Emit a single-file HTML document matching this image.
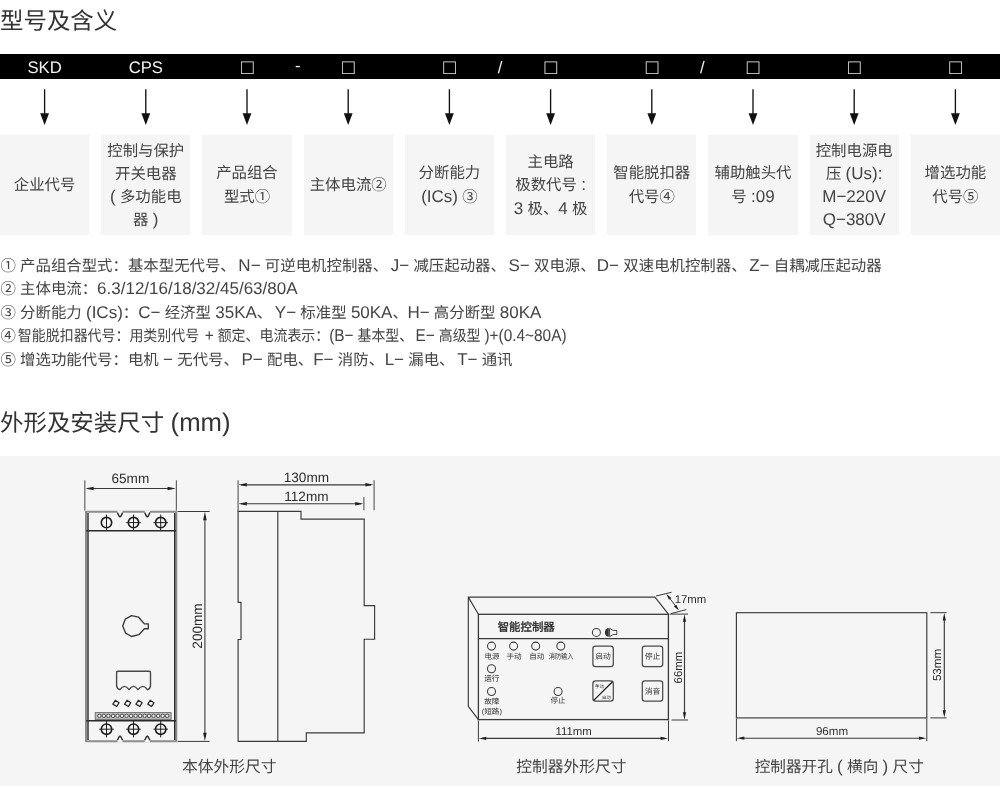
<!DOCTYPE html>
<html lang="zh-CN">
<head>
<meta charset="utf-8">
<title>型号及含义</title>
<style>
html,body{margin:0;padding:0;background:#fff;}
body{will-change:transform;text-rendering:geometricPrecision;width:1000px;height:786px;position:relative;overflow:hidden;font-family:"Liberation Sans",sans-serif;font-weight:300;color:#444;}
h1,h2{position:absolute;left:0;margin:0;font-weight:300;font-size:23.45px;line-height:30px;color:#333;white-space:nowrap;letter-spacing:0;}
h1{top:6.2px;}
h2{top:407.6px;}
.bar{position:absolute;left:0;top:54.4px;width:1000px;height:24.9px;background:#000;}
.bar span{position:absolute;width:60px;margin-left:-30px;text-align:center;color:#f2f2f2;font-size:16.7px;line-height:26px;top:0.3px;}
.bar .q{font-size:21px;top:0.2px;color:#e4e4e4;}
.box{position:absolute;top:135px;width:89.2px;height:99.6px;background:#f5f5f5;display:flex;align-items:center;justify-content:center;text-align:center;font-size:15.4px;line-height:23.3px;color:#444;}
.box>div{position:relative;top:1.3px;}
.box.l2{line-height:24px;}
.box.l3{line-height:23.7px;}
.notes{position:absolute;left:0.4px;top:254.5px;margin:0;padding:0;font-size:15.41px;line-height:23.55px;color:#444;white-space:nowrap;}
.notes p{margin:0;}
.panel{position:absolute;left:0;top:456px;width:1000px;height:330px;background:#f5f5f5;}
.cap{position:absolute;top:756px;width:240px;margin-left:-120px;text-align:center;font-size:15.75px;line-height:23px;color:#444;white-space:nowrap;}
.l{font-size:17px;line-height:0;}
.g{margin-left:2.6px;}
.sq{display:inline-block;transform:scaleX(0.905);transform-origin:0 50%;margin-left:-1.4px;white-space:pre;}
h1 .l,h2 .l{font-size:25.7px;line-height:0;}
svg{position:absolute;left:0;top:0;}
svg text{font-family:"Liberation Sans",sans-serif;}
</style>
</head>
<body>
<h1>型号及含义</h1>

<div class="bar">
<span style="left:44.6px">SKD</span>
<span style="left:145.8px">CPS</span>
<span class="q" style="left:247.3px">□</span>
<span style="left:297.8px;top:-1.4px">-</span>
<span class="q" style="left:348.4px">□</span>
<span class="q" style="left:449.6px">□</span>
<span style="left:500px">/</span>
<span class="q" style="left:550.8px">□</span>
<span class="q" style="left:652px">□</span>
<span style="left:702.4px">/</span>
<span class="q" style="left:753.2px">□</span>
<span class="q" style="left:854.4px">□</span>
<span class="q" style="left:955.6px">□</span>
</div>

<div class="box" style="left:0px"><div>企业代号</div></div>
<div class="box" style="left:101.2px"><div>控制与保护<br>开关电器<br><span class="l">(</span> 多功能电<br>器 <span class="l">)</span></div></div>
<div class="box l2" style="left:202.4px"><div>产品组合<br>型式①</div></div>
<div class="box" style="left:303.6px"><div>主体电流②</div></div>
<div class="box l2" style="left:404.8px"><div>分断能力<br><span class="l">(ICs)</span> ③</div></div>
<div class="box l3" style="left:506px"><div>主电路<br>极数代号 <span class="l">:</span><br><span class="l">3</span> 极、<span class="l">4</span> 极</div></div>
<div class="box l2" style="left:607.2px"><div>智能脱扣器<br>代号④</div></div>
<div class="box l2" style="left:708.4px"><div>辅助触头代<br>号 <span class="l">:09</span></div></div>
<div class="box" style="left:809.6px"><div>控制电源电<br>压 <span class="l">(Us):</span><br><span class="l">M−220V</span><br><span class="l">Q−380V</span></div></div>
<div class="box l2" style="left:910.8px"><div>增选功能<br>代号⑤</div></div>

<div class="notes">
<p>① 产品组合型式：基本型无代号、<span class="l g">N−</span> 可逆电机控制器、<span class="l g">J−</span> 减压起动器、<span class="l g">S−</span> 双电源、<span class="l g" style="margin-left:1.2px">D−</span> 双速电机控制器、<span class="l g">Z−</span> 自耦减压起动器</p>
<p>② 主体电流：<span class="l">6.3/12/16/18/32/45/63/80A</span></p>
<p>③ 分断能力 <span class="l">(ICs)</span>：<span class="l">C−</span> 经济型 <span class="l">35KA</span>、<span class="l g">Y−</span> 标准型 <span class="l">50KA</span>、<span class="l g" style="margin-left:-0.5px">H−</span> 高分断型 <span class="l">80KA</span></p>
<p>④<span class="sq"> 智能脱扣器代号：用类别代号 <span class="l" style="margin-left:2px">+</span> 额定、电流表示：<span class="l">(B−</span> 基本型、<span class="l g">E−</span> 高级型 <span class="l">)+(0.4~80A)</span></span></p>
<p>⑤ 增选功能代号：电机 <span class="l">−</span> 无代号、<span class="l g">P−</span> 配电、<span class="l g" style="margin-left:0">F−</span> 消防、<span class="l g" style="margin-left:0.6px">L−</span> 漏电、<span class="l g">T−</span> 通讯</p>
</div>

<h2>外形及安装尺寸 <span class="l">(mm)</span></h2>

<div class="panel"></div>

<svg width="1000" height="786" viewBox="0 0 1000 786">
<g fill="#111" stroke="#111" stroke-width="1.35">
<path d="M44.6,89.3V114"/><path d="M40.2,113.2H49.0L44.6,124.9Z" stroke="none"/>
<path d="M145.8,89.3V114"/><path d="M141.4,113.2H150.2L145.8,124.9Z" stroke="none"/>
<path d="M247.0,89.3V114"/><path d="M242.6,113.2H251.4L247.0,124.9Z" stroke="none"/>
<path d="M348.2,89.3V114"/><path d="M343.8,113.2H352.6L348.2,124.9Z" stroke="none"/>
<path d="M449.4,89.3V114"/><path d="M445.0,113.2H453.8L449.4,124.9Z" stroke="none"/>
<path d="M550.6,89.3V114"/><path d="M546.2,113.2H555.0L550.6,124.9Z" stroke="none"/>
<path d="M651.8,89.3V114"/><path d="M647.4,113.2H656.2L651.8,124.9Z" stroke="none"/>
<path d="M753.0,89.3V114"/><path d="M748.6,113.2H757.4L753.0,124.9Z" stroke="none"/>
<path d="M854.2,89.3V114"/><path d="M849.8,113.2H858.6L854.2,124.9Z" stroke="none"/>
<path d="M955.4,89.3V114"/><path d="M951.0,113.2H959.8L955.4,124.9Z" stroke="none"/>
</g>
<g fill="none" stroke="#3a3a3a" stroke-width="1.1" stroke-linejoin="round">
<path d="M84.8,480.2V510.6M176.4,480.2V510.6" stroke="#666" stroke-width="1.2"/>
<path d="M88,488.5H173"/>
<path d="M85.4,488.5L93.6,486.7V490.3ZM175.8,488.5L167.6,486.7V490.3Z" fill="#222" stroke="none"/>
<path d="M177.6,511.5H209.6M177.6,741.4H209.6" stroke-width="1"/>
<path d="M204.9,516V737"/>
<path d="M204.9,511.8L203.1,520.2H206.7ZM204.9,741.1L203.1,732.7H206.7Z" fill="#222" stroke="none"/>
<rect x="86" y="511.7" width="90.3" height="229.5" stroke="#8c8c8c" stroke-width="2"/>
<path d="M88,513V740M174.7,513V740" stroke="#2a2a2a" stroke-width="1.4"/>
<path d="M86.4,530.7H176M86.4,720.7H176" stroke="#2a2a2a" stroke-width="1.5"/>
<path d="M117.4,510.4V512.9L119.0,516Q120.0,517.4 121.0,516L122.6,512.9V510.4Z" fill="#f5f5f5" stroke="none"/>
<path d="M117.4,512.6L119.0,516Q120.0,517.4 121.0,516L122.6,512.6" stroke="#2a2a2a" stroke-width="1.4"/>
<path d="M117.4,742.5V740L119.0,737Q120.0,735.6 121.0,737L122.6,740V742.5Z" fill="#f5f5f5" stroke="none"/>
<path d="M117.4,740.3L119.0,737Q120.0,735.6 121.0,737L122.6,740.3" stroke="#2a2a2a" stroke-width="1.4"/>
<path d="M144.70000000000002,510.4V512.9L146.3,516Q147.3,517.4 148.3,516L149.9,512.9V510.4Z" fill="#f5f5f5" stroke="none"/>
<path d="M144.70000000000002,512.6L146.3,516Q147.3,517.4 148.3,516L149.9,512.6" stroke="#2a2a2a" stroke-width="1.4"/>
<path d="M144.70000000000002,742.5V740L146.3,737Q147.3,735.6 148.3,737L149.9,740V742.5Z" fill="#f5f5f5" stroke="none"/>
<path d="M144.70000000000002,740.3L146.3,737Q147.3,735.6 148.3,737L149.9,740.3" stroke="#2a2a2a" stroke-width="1.4"/>
<circle cx="106.5" cy="522.6" r="5.2" stroke="#1e1e1e" stroke-width="1.6"/>
<path d="M106.5,514.6V530.6" stroke="#1e1e1e" stroke-width="1"/>
<circle cx="106.5" cy="729.2" r="5.2" stroke="#1e1e1e" stroke-width="1.6"/>
<path d="M106.5,721V737.4M99.2,729.2H113.8" stroke="#1e1e1e" stroke-width="1"/>
<circle cx="133.5" cy="522.6" r="5.2" stroke="#1e1e1e" stroke-width="1.6"/>
<path d="M133.5,514.6V530.6M126.2,522.6H140.8" stroke="#1e1e1e" stroke-width="1"/>
<circle cx="133.5" cy="729.2" r="5.2" stroke="#1e1e1e" stroke-width="1.6"/>
<path d="M133.5,721V737.4M126.2,729.2H140.8" stroke="#1e1e1e" stroke-width="1"/>
<circle cx="160.7" cy="522.6" r="5.2" stroke="#1e1e1e" stroke-width="1.6"/>
<path d="M160.7,514.6V530.6M153.39999999999998,522.6H168.0" stroke="#1e1e1e" stroke-width="1"/>
<circle cx="160.7" cy="729.2" r="5.2" stroke="#1e1e1e" stroke-width="1.6"/>
<path d="M160.7,721V737.4M153.39999999999998,729.2H168.0" stroke="#1e1e1e" stroke-width="1"/>
<path d="M122.7,626.1L125.3,619.2L131.6,615.7L138.6,617.2L144.4,623.9H148.3V628.7H144.4L138.9,634.7L131.6,636.5L125.6,633.1Z" stroke="#383838" stroke-width="1.35" stroke-linejoin="round"/>
<path d="M116.6,685.6V672.4Q116.6,671.2 117.8,671.2H149.3Q150.5,671.2 150.5,672.4V685.6Q150.3,688.8 147.5,689.7Q142.8,683.1 138,689.7Q133.5,683.1 129,689.7Q124.4,683.1 119.9,689.7Q116.9,688.8 116.6,685.6Z" stroke="#484848" stroke-width="1.4" stroke-linejoin="round"/>
<path d="M112.9,704.1L115.3,700.3L119.1,702.7L116.7,706.5Z" stroke="#2e2e2e" stroke-width="1.3"/>
<path d="M124.6,704.1L127.0,700.3L130.8,702.7L128.4,706.5Z" stroke="#2e2e2e" stroke-width="1.3"/>
<path d="M136.0,704.1L138.4,700.3L142.2,702.7L139.8,706.5Z" stroke="#2e2e2e" stroke-width="1.3"/>
<path d="M147.8,704.1L150.2,700.3L154.0,702.7L151.6,706.5Z" stroke="#2e2e2e" stroke-width="1.3"/>
<rect x="95.3" y="712.5" width="75.8" height="7" fill="#bdbdbd" stroke="#7a7a7a" stroke-width="1.1"/>
<circle cx="99.4" cy="715.9" r="1.75" fill="#efefef" stroke="#3c3c3c" stroke-width="0.9"/>
<circle cx="103.9" cy="715.9" r="1.75" fill="#efefef" stroke="#3c3c3c" stroke-width="0.9"/>
<circle cx="108.4" cy="715.9" r="1.75" fill="#efefef" stroke="#3c3c3c" stroke-width="0.9"/>
<circle cx="113.0" cy="715.9" r="1.75" fill="#efefef" stroke="#3c3c3c" stroke-width="0.9"/>
<circle cx="117.5" cy="715.9" r="1.75" fill="#efefef" stroke="#3c3c3c" stroke-width="0.9"/>
<circle cx="122.0" cy="715.9" r="1.75" fill="#efefef" stroke="#3c3c3c" stroke-width="0.9"/>
<circle cx="126.5" cy="715.9" r="1.75" fill="#efefef" stroke="#3c3c3c" stroke-width="0.9"/>
<circle cx="131.0" cy="715.9" r="1.75" fill="#efefef" stroke="#3c3c3c" stroke-width="0.9"/>
<circle cx="135.6" cy="715.9" r="1.75" fill="#efefef" stroke="#3c3c3c" stroke-width="0.9"/>
<circle cx="140.1" cy="715.9" r="1.75" fill="#efefef" stroke="#3c3c3c" stroke-width="0.9"/>
<circle cx="144.6" cy="715.9" r="1.75" fill="#efefef" stroke="#3c3c3c" stroke-width="0.9"/>
<circle cx="149.1" cy="715.9" r="1.75" fill="#efefef" stroke="#3c3c3c" stroke-width="0.9"/>
<circle cx="153.6" cy="715.9" r="1.75" fill="#efefef" stroke="#3c3c3c" stroke-width="0.9"/>
<circle cx="158.2" cy="715.9" r="1.75" fill="#efefef" stroke="#3c3c3c" stroke-width="0.9"/>
<circle cx="162.7" cy="715.9" r="1.75" fill="#efefef" stroke="#3c3c3c" stroke-width="0.9"/>
<circle cx="167.2" cy="715.9" r="1.75" fill="#efefef" stroke="#3c3c3c" stroke-width="0.9"/>
</g>
<g fill="#2e2e2e" font-size="13.6" text-anchor="middle">
<text x="130.4" y="483">65mm</text>
<text transform="translate(202,626) rotate(-90)">200mm</text>
</g>
<g fill="none" stroke="#3a3a3a" stroke-width="1.15" stroke-linejoin="miter">
<path d="M238.1,480.2V511.4M374.1,480.2V510.3M363.9,497V510.3" stroke="#555" stroke-width="1.1"/>
<path d="M241,484.8H371M241,503.7H361"/>
<path d="M238.6,484.8L246.8,483V486.6ZM373.6,484.8L365.4,483V486.6ZM238.6,503.7L246.8,501.9V505.5ZM363.4,503.7L355.2,501.9V505.5Z" fill="#222" stroke="none"/>
<path d="M238.1,511.4H301V519.1H364.2V605.6H374.6V639.2H364.2V732.8H306.3V741.3H238.1V639.5H241V602.4H238.1Z"/>
<path d="M277.8,511.4V741.3"/>
</g>
<g fill="#2e2e2e" font-size="13.6" text-anchor="middle">
<text x="306.4" y="482.4">130mm</text>
<text x="306.4" y="500.6">112mm</text>
</g>
<g fill="none" stroke="#3a3a3a" stroke-width="1.15">
<path d="M468.3,706.4V597.1H654.9L668.4,614.2M468.3,597.1L478.4,614.3M468.3,706.4L478.4,719.6"/>
<rect x="478.4" y="614.3" width="190" height="105.3" stroke-width="1.3"/>
<path d="M478.4,638.6H668.4"/>
<circle cx="491.5" cy="646.1" r="4" stroke-width="1.05"/>
<circle cx="513.6" cy="646.1" r="4" stroke-width="1.05"/>
<circle cx="535.7" cy="646.1" r="4" stroke-width="1.05"/>
<circle cx="560.8" cy="646.1" r="4" stroke-width="1.05"/>
<circle cx="491.5" cy="668.8" r="4" stroke-width="1.05"/>
<circle cx="491.5" cy="691.5" r="4" stroke-width="1.05"/>
<circle cx="558.1" cy="691.5" r="4" stroke-width="1.05"/>
<circle cx="596.4" cy="632.4" r="4" stroke-width="1.05"/>
<rect x="592.9" y="646.2" width="20.4" height="20.3" rx="2.6" stroke="#4a4a4a" stroke-width="1.25"/>
<rect x="642.3" y="646.2" width="20.4" height="20.3" rx="2.6" stroke="#4a4a4a" stroke-width="1.25"/>
<rect x="592.9" y="680.9" width="20.4" height="20.3" rx="2.6" stroke="#4a4a4a" stroke-width="1.25"/>
<rect x="642.3" y="680.9" width="20.4" height="20.3" rx="2.6" stroke="#4a4a4a" stroke-width="1.25"/>
<path d="M593.7,700.4L612.5,681.7" stroke="#222" stroke-width="1.3"/>
<path d="M608.8,628A3.9,4.4 0 0 0 608.8,636.8Z" fill="#333" stroke="none"/>
<path d="M609.6,628.3L613.3,630.5H616.8V634.5H613.3L609.6,636.7Z" stroke="#333" stroke-width="0.9"/>
<path d="M656,596L671.5,592.3M670.9,613.6L686.4,609.6" stroke-width="1"/>
<path d="M667.6,595.5L677.7,608.8" stroke-width="1"/>
<path d="M666.4,593.9L669,599.7L671.4,597.9ZM678.9,610.4L673.9,606.6L676.3,604.8Z" fill="#222" stroke="none"/>
<path d="M669.6,614.1H688M671.5,720H688" stroke-width="1"/>
<path d="M684.5,618V716"/>
<path d="M684.5,614.4L682.9,621.8H686.1ZM684.5,719.7L682.9,712.3H686.1Z" fill="#222" stroke="none"/>
<path d="M478.4,720.4V741.6M668.5,720.4V741.2" stroke-width="1"/>
<path d="M482,738.4H665"/>
<path d="M478.9,738.4L486.3,736.8V740ZM668,738.4L660.6,736.8V740Z" fill="#222" stroke="none"/>
</g>
<g fill="#2e2e2e" font-size="11.4">
<text x="674.7" y="602.8">17mm</text>
<text x="573.6" y="734.5" text-anchor="middle">111mm</text>
<text transform="translate(682.4,667.6) rotate(-90)" text-anchor="middle">66mm</text>
</g>
<g fill="#333" font-size="7.6" text-anchor="middle" font-weight="400">
<text x="526.2" y="631.3" font-size="11.4" fill="#2a2a2a" stroke="#2a2a2a" stroke-width="0.35">智能控制器</text>
<text x="492" y="659.2">电源</text>
<text x="514" y="659.2">手动</text>
<text x="536.8" y="659.2">自动</text>
<text x="561.1" y="659.2" textLength="24.8" lengthAdjust="spacingAndGlyphs">消防输入</text>
<text x="491.8" y="681.1">运行</text>
<text x="491.8" y="704">故障</text>
<text x="491.8" y="713.6">(短路)</text>
<text x="558.1" y="703.2">停止</text>
<text x="603.1" y="659.2" font-size="7.8">启动</text>
<text x="652.5" y="659.2" font-size="7.8">停止</text>
<text x="652.5" y="693.9" font-size="7.8">消音</text>
<text x="599.4" y="687.8" font-size="4.4">手动</text>
<text x="606.3" y="698.6" font-size="4.4">自动</text>
</g>
<g fill="none" stroke="#3a3a3a" stroke-width="1.15">
<rect x="736.4" y="612.7" width="190.4" height="105.2"/>
<path d="M736.4,718.5V741.2M926.8,718.5V741.2M930.4,612.7H946.6M930.4,717.9H946.6" stroke-width="1"/>
<path d="M740,738.2H923M944.3,616.5V714"/>
<path d="M736.9,738.2L744.3,736.6V739.8ZM926.3,738.2L918.9,736.6V739.8ZM944.3,613L942.7,620.4H945.9ZM944.3,717.6L942.7,710.2H945.9Z" fill="#222" stroke="none"/>
</g>
<g fill="#2e2e2e" font-size="11.6" text-anchor="middle">
<text x="832" y="735.3">96mm</text>
<text transform="translate(940.8,665) rotate(-90)">53mm</text>
</g>
</svg>

<div class="cap" style="left:229.3px">本体外形尺寸</div>
<div class="cap" style="left:571.3px">控制器外形尺寸</div>
<div class="cap" style="left:839.3px;font-size:15.6px">控制器开孔 <span class="l">(</span> 横向 <span class="l">)</span> 尺寸</div>
</body>
</html>
